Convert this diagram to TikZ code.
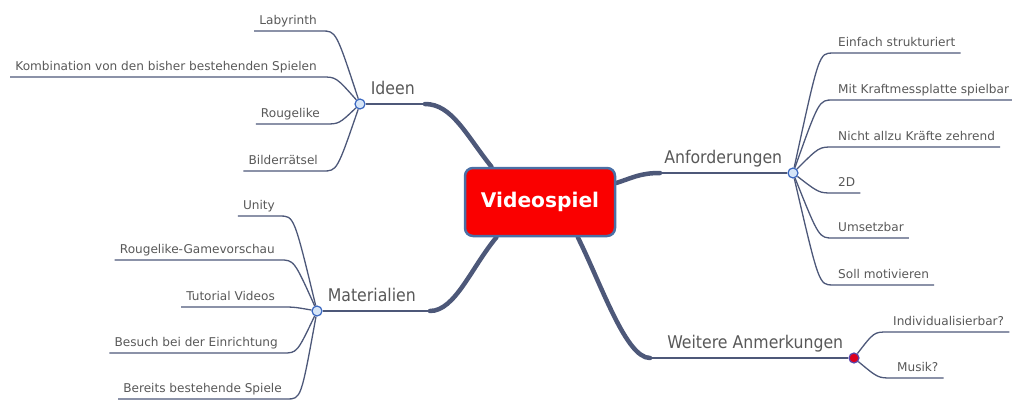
\documentclass[tikz,border=0pt]{standalone}
\usepackage{fontspec}
\setmainfont{DejaVu Sans}
\newfontfamily\topicfont{DejaVu Sans}[FakeStretch=0.9]
\usetikzlibrary{backgrounds}

\newlength{\du}
\setlength{\du}{1pt}

\definecolor{mapline}{RGB}{77,88,121}
\definecolor{maptext}{RGB}{88,88,88}
\definecolor{knotfill}{RGB}{214,229,247}
\definecolor{knotdraw}{RGB}{58,103,192}
\definecolor{rootred}{RGB}{250,0,0}
\definecolor{rootdraw}{RGB}{74,111,165}
\definecolor{redknot}{RGB}{220,0,30}
\definecolor{redknotdraw}{RGB}{90,70,170}

\tikzset{
  root/.style={draw=rootdraw, line width=2.5\du, fill=rootred, rounded corners=8\du,
    minimum width=150\du, minimum height=68\du, text=white,
    font=\fontsize{20.2}{24}\selectfont\bfseries},
  knot/.style={circle, draw=knotdraw, line width=1.2\du, fill=knotfill,
    minimum size=10\du, inner sep=0pt},
  topic/.style={text=maptext, inner xsep=5\du, inner ysep=5\du,
    text height=13\du, text depth=4\du, font=\topicfont\fontsize{17.5}{20}\selectfont},
  leaf/.style={text=maptext, inner xsep=5\du, inner ysep=3.5\du,
    text height=9.5\du, text depth=3\du, font=\fontsize{12.1}{14}\selectfont},
  trunk/.style={draw=mapline, line width=4.5\du, line cap=round},
  limb/.style={draw=mapline, line width=2\du},
  twig/.style={draw=mapline, line width=1.3\du},
}

\begin{document}
\begin{tikzpicture}
\pgftransformyscale{-1.000000}
\useasboundingbox (0\du,0\du) rectangle (1012\du,401\du);

% centre
\node[root] (vs) at (540\du,202\du) {Videospiel};

% Ideen
\node[knot] (ideen) at (360\du,104\du) {};
\coordinate (ideenbend) at (425\du,104\du);
\node[topic, anchor=south west] (ideenlbl) at (ideen.east) {Ideen};
\node[leaf, anchor=south east] (laby) at (322\du,31\du) {Labyrinth};
\node[leaf, anchor=south east] (kombi) at (322\du,77\du) {Kombination von den bisher bestehenden Spielen};
\node[leaf, anchor=south east] (rouge) at (325\du,124\du) {Rougelike};
\node[leaf, anchor=south east] (bilder) at (323\du,171\du) {Bilderrätsel};

% Anforderungen
\node[knot] (anf) at (793\du,173\du) {};
\coordinate (anfbend) at (660\du,173\du);
\node[topic, anchor=south east] (anflbl) at (anf.west) {Anforderungen};
\node[leaf, anchor=south west] (einfach) at (833\du,53\du) {Einfach strukturiert};
\node[leaf, anchor=south west] (kraft) at (833\du,100\du) {Mit Kraftmessplatte spielbar};
\node[leaf, anchor=south west] (zehrend) at (833\du,147\du) {Nicht allzu Kräfte zehrend};
\node[leaf, anchor=south west] (zweid) at (833\du,193\du) {2D};
\node[leaf, anchor=south west] (umsetz) at (833\du,238\du) {Umsetzbar};
\node[leaf, anchor=south west] (motiv) at (833\du,285\du) {Soll motivieren};

% Materialien
\node[knot] (mat) at (317\du,311\du) {};
\coordinate (matbend) at (430\du,311\du);
\node[topic, anchor=south west] (matlbl) at (mat.east) {Materialien};
\node[leaf, anchor=south east] (unity) at (280\du,216\du) {Unity};
\node[leaf, anchor=south east] (vorschau) at (280\du,260\du) {Rougelike-Gamevorschau};
\node[leaf, anchor=south east] (tutorial) at (280\du,307\du) {Tutorial Videos};
\node[leaf, anchor=south east] (besuch) at (283\du,353\du) {Besuch bei der Einrichtung};
\node[leaf, anchor=south east] (bereits) at (287\du,399\du) {Bereits bestehende Spiele};

% Weitere Anmerkungen
\node[knot, fill=redknot, draw=redknotdraw] (weit) at (854\du,358\du) {};
\coordinate (weitbend) at (650\du,358\du);
\node[topic, anchor=south east] (weitlbl) at (weit.west) {Weitere Anmerkungen};
\node[leaf, anchor=south west] (indiv) at (888\du,332\du) {Individualisierbar?};
\node[leaf, anchor=south west] (musik) at (892\du,378\du) {Musik?};

\begin{scope}[on background layer]
% main branches
\draw[limb] (ideen) -- (ideenbend);
\draw[trunk] (ideenbend) .. controls (452\du,104\du) and (466\du,135\du) .. (vs.144);
\draw[limb] (anf) -- (anfbend);
\draw[trunk] (anfbend) .. controls (640\du,173\du) and (632\du,178\du) .. (vs.14);
\draw[limb] (mat) -- (matbend);
\draw[trunk] (matbend) .. controls (455\du,311\du) and (471\du,268\du) .. (vs.219);
\draw[limb] (weit) -- (weitbend);
\draw[trunk] (weitbend) .. controls (626\du,358\du) and (602\du,286\du) .. (vs.317);

% Ideen twigs
\draw[twig] (ideen) .. controls ([xshift=14\du]laby.south east) .. (laby.south east) -- (laby.south west);
\draw[twig] (ideen) .. controls ([xshift=14\du]kombi.south east) .. (kombi.south east) -- (kombi.south west);
\draw[twig] (ideen) .. controls ([xshift=14\du]rouge.south east) .. (rouge.south east) -- (rouge.south west);
\draw[twig] (ideen) .. controls ([xshift=14\du]bilder.south east) .. (bilder.south east) -- (bilder.south west);

% Anforderungen twigs
\draw[twig] (anf) .. controls ([xshift=-14\du]einfach.south west) .. (einfach.south west) -- (einfach.south east);
\draw[twig] (anf) .. controls ([xshift=-14\du]kraft.south west) .. (kraft.south west) -- (kraft.south east);
\draw[twig] (anf) .. controls ([xshift=-14\du]zehrend.south west) .. (zehrend.south west) -- (zehrend.south east);
\draw[twig] (anf) .. controls ([xshift=-14\du]zweid.south west) .. (zweid.south west) -- (zweid.south east);
\draw[twig] (anf) .. controls ([xshift=-14\du]umsetz.south west) .. (umsetz.south west) -- (umsetz.south east);
\draw[twig] (anf) .. controls ([xshift=-14\du]motiv.south west) .. (motiv.south west) -- (motiv.south east);

% Materialien twigs
\draw[twig] (mat) .. controls ([xshift=14\du]unity.south east) .. (unity.south east) -- (unity.south west);
\draw[twig] (mat) .. controls ([xshift=14\du]vorschau.south east) .. (vorschau.south east) -- (vorschau.south west);
\draw[twig] (mat) .. controls ([xshift=14\du]tutorial.south east) .. (tutorial.south east) -- (tutorial.south west);
\draw[twig] (mat) .. controls ([xshift=14\du]besuch.south east) .. (besuch.south east) -- (besuch.south west);
\draw[twig] (mat) .. controls ([xshift=14\du]bereits.south east) .. (bereits.south east) -- (bereits.south west);

% Weitere twigs
\draw[twig] (weit) .. controls ([xshift=-14\du]indiv.south west) .. (indiv.south west) -- (indiv.south east);
\draw[twig] (weit) .. controls ([xshift=-14\du]musik.south west) .. (musik.south west) -- (musik.south east);
\end{scope}
\end{tikzpicture}
\end{document}
